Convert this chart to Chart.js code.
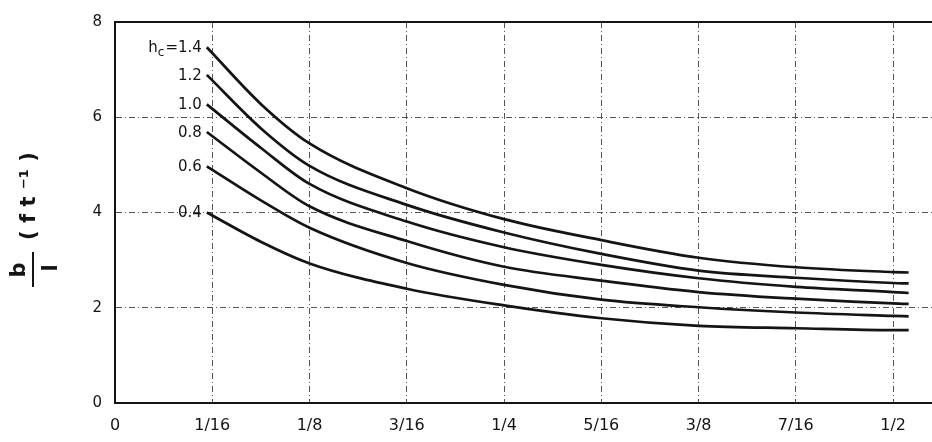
<!DOCTYPE html>
<html>
<head>
<meta charset="utf-8">
<script src="https://cdn.jsdelivr.net/npm/chart.js@4.4.0/dist/chart.umd.min.js"></script>
<style>
  html, body { margin: 0; padding: 0; background: #fff; }
  #wrap { width: 932px; height: 442px; }
</style>
</head>
<body>
<div id="wrap"><canvas id="curveChart"></canvas></div>
<script>
// valores (x en pulgadas)
const spacing = [0.059, 0.094, 0.125, 0.1875, 0.25, 0.3125, 0.375, 0.4375, 0.5, 0.51];
const hc14 = [7.47, 6.27, 5.45, 4.51, 3.86, 3.42, 3.05, 2.85, 2.75, 2.74];
const hc12 = [6.89, 5.76, 4.98, 4.16, 3.58, 3.13, 2.78, 2.63, 2.52, 2.51];
const hc10 = [6.27, 5.35, 4.60, 3.81, 3.27, 2.90, 2.62, 2.44, 2.33, 2.31];
const hc08 = [5.69, 4.83, 4.13, 3.40, 2.86, 2.57, 2.33, 2.19, 2.09, 2.08];
const hc06 = [4.97, 4.25, 3.68, 2.94, 2.48, 2.17, 2.01, 1.90, 1.83, 1.82];
const hc04 = [4.00, 3.38, 2.93, 2.40, 2.05, 1.78, 1.62, 1.57, 1.53, 1.53];

const curveLabels = ['1.4', '1.2', '1.0', '0.8', '0.6', '0.4'];
const curveValues = [hc14, hc12, hc10, hc08, hc06, hc04];
const xTickLabels = ['0', '1/16', '1/8', '3/16', '1/4', '5/16', '3/8', '7/16', '1/2'];

const ink = '#141414';
const fontFamily = '"DejaVu Sans", sans-serif';

const datasets = curveValues.map(function (vals, i) {
    return {
        label: 'hc = ' + curveLabels[i],
        data: spacing.map(function (x, j) { return { x: x, y: vals[j] }; }),
        borderColor: ink,
        borderWidth: 2.7,
        pointRadius: 0,
        fill: false,
        cubicInterpolationMode: 'monotone'
    };
});

// Etiquetas de cada curva, al inicio de la curva
const curveLabelPlugin = {
    id: 'curveLabels',
    afterDatasetsDraw(chart) {
        const ctx = chart.ctx;
        ctx.save();
        ctx.fillStyle = ink;
        ctx.textAlign = 'right';
        ctx.textBaseline = 'middle';
        chart.data.datasets.forEach(function (ds, i) {
            const pt = chart.getDatasetMeta(i).data[0];
            const x = pt.x - 5;
            const y = pt.y + 1;
            ctx.font = '15px ' + fontFamily;
            if (i === 0) {
                const txt = '=' + curveLabels[i];
                ctx.fillText(txt, x, y);
                const w = ctx.measureText(txt).width;
                ctx.font = '12px ' + fontFamily;
                ctx.fillText('c', x - w - 1, y + 5);
                const cw = ctx.measureText('c').width;
                ctx.font = '15px ' + fontFamily;
                ctx.fillText('h', x - w - cw - 1, y);
            } else {
                ctx.fillText(curveLabels[i], x, y);
            }
        });
        ctx.restore();
    }
};

// Titulo del eje y: b / l (ft^-1), rotado
const yTitlePlugin = {
    id: 'yTitle',
    afterDraw(chart) {
        const ctx = chart.ctx;
        const a = chart.chartArea;
        function rotText(text, sx, sy) {
            ctx.save();
            ctx.translate(sx, sy);
            ctx.rotate(-Math.PI / 2);
            ctx.fillText(text, 0, 0);
            ctx.restore();
        }
        ctx.save();
        ctx.fillStyle = ink;
        ctx.strokeStyle = ink;
        ctx.textAlign = 'center';
        ctx.textBaseline = 'alphabetic';
        ctx.font = 'bold 21px ' + fontFamily;
        rotText('b', a.left - 90, a.top + 248);
        rotText('l', a.left - 58, a.top + 246);
        rotText('( f t \u207B\u00B9 )', a.left - 80, a.top + 174);
        ctx.lineWidth = 2;
        ctx.beginPath();
        ctx.moveTo(a.left - 82, a.top + 230);
        ctx.lineTo(a.left - 82, a.top + 265);
        ctx.stroke();
        ctx.restore();
    }
};

const curveConfig = {
    type: 'line',
    data: { datasets: datasets },
    options: {
        responsive: true,
        maintainAspectRatio: false,
        animation: false,
        layout: { padding: { top: 17, left: 0, right: 0, bottom: 0 } },
        plugins: {
            legend: { display: false },
            tooltip: { enabled: false }
        },
        scales: {
            x: {
                type: 'linear',
                min: 0,
                max: 0.525,
                afterFit: function (scale) { scale.height = 39; },
                afterBuildTicks: function (scale) {
                    scale.ticks = xTickLabels.map(function (t, i) { return { value: i / 16 }; });
                },
                ticks: {
                    autoSkip: false,
                    maxRotation: 0,
                    padding: 13,
                    color: ink,
                    font: { family: fontFamily, size: 16 },
                    callback: function (v, i) { return xTickLabels[i]; }
                },
                grid: { color: '#555', lineWidth: 1, drawTicks: false },
                border: { color: ink, width: 2, dash: [6, 3, 1, 3] }
            },
            xTop: {
                type: 'linear',
                position: 'top',
                afterFit: function (scale) { scale.height = 0; },
                ticks: { display: false },
                grid: { display: false },
                border: { color: ink, width: 2 }
            },
            y: {
                min: 0,
                max: 8,
                afterFit: function (scale) { scale.width = 115; },
                ticks: {
                    stepSize: 2,
                    padding: 13,
                    color: ink,
                    font: { family: fontFamily, size: 15 }
                },
                grid: { color: '#555', lineWidth: 1, drawTicks: false },
                border: { color: ink, width: 2, dash: [6, 3, 1, 3] }
            }
        }
    },
    plugins: [curveLabelPlugin, yTitlePlugin]
};

const curveChart = new Chart(document.getElementById('curveChart'), curveConfig);
</script>
</body>
</html>
